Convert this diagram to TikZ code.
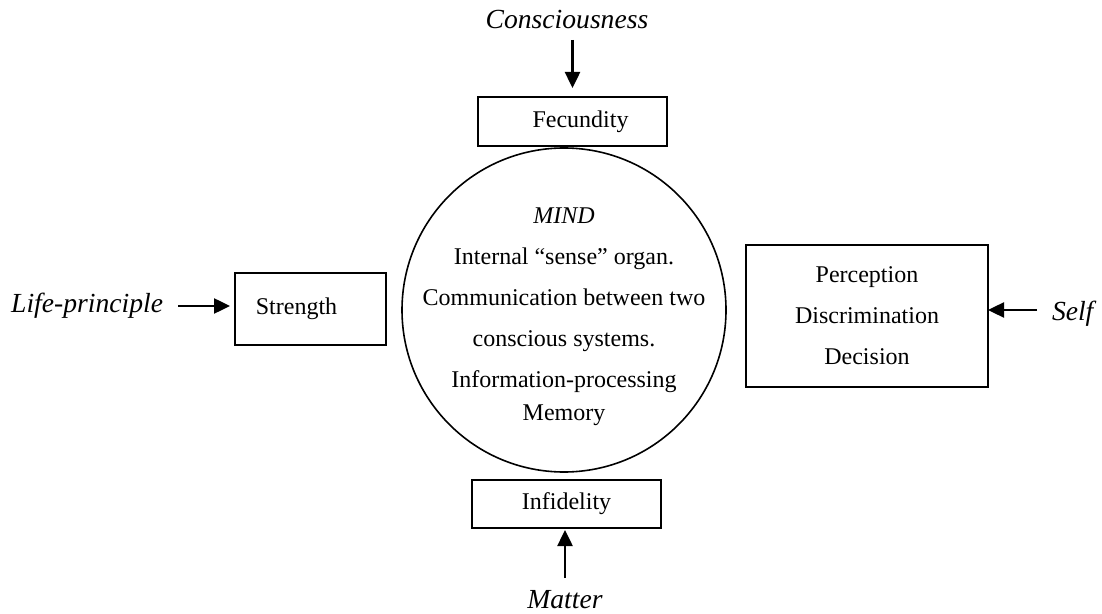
\documentclass[tikz,border=0pt]{standalone}
\usepackage{fontspec}
\setmainfont{Liberation Serif}
\usepackage{tikz}
\usetikzlibrary{arrows.meta, positioning}

\begin{document}
\begin{tikzpicture}[x=0.5pt, y=-0.5pt, node distance=10pt and 10pt, font=\fontsize{12}{20.5}\selectfont]
  % Define styles
  \tikzstyle{mindcircle} = [circle, draw=black, line width=0.8pt, minimum size=162pt, inner sep=0pt, outer sep=0pt]
  \tikzstyle{faculty} = [rectangle, draw=black, line width=1pt, text centered, align=center, inner sep=3pt, outer sep=0pt]
  \tikzstyle{pole} = [inner sep=0pt, outer sep=0pt, font=\fontsize{13.8}{16}\selectfont\itshape]
  \tikzstyle{arrow} = [line width=1.25pt, -{Triangle[length=8pt, width=7.5pt]}]

  \useasboundingbox (0,0) rectangle (1102,614);

  % Place nodes
  \node [mindcircle] (mind) at (564,310) {};
  \node [align=center, yshift=-3.5pt] (mindText) at (mind.center) {\textit{MIND}\\Internal ``sense'' organ.\\Communication between two\\conscious systems.\\Information-processing\\[-4pt]Memory};
  \node [faculty, minimum width=94.5pt, minimum height=24.5pt, above=1pt of mind, xshift=4.25pt] (fecundity) {\hspace*{8pt}Fecundity};
  \node [faculty, minimum width=94.5pt, minimum height=24pt, below=4pt of mind, xshift=1.25pt] (infidelity) {Infidelity};
  \node [faculty, minimum width=75.5pt, minimum height=36pt, left=8pt of mind, yshift=0.5pt] (strength) {Strength\hspace*{14pt}};
  \node [faculty, minimum width=121pt, minimum height=71pt, right=10pt of mind, yshift=-3pt] (judgement) {Perception\\Discrimination\\Decision};
  \node [pole, above=34pt of fecundity, xshift=-2.75pt] (consciousness) {Consciousness};
  \node [pole, below=31pt of infidelity, xshift=-0.75pt] (matter) {Matter};
  \node [pole, left=36pt of strength, yshift=1.5pt] (life) {Life-principle};
  \node [pole, right=32pt of judgement, yshift=1pt] (self) {Self};
  \coordinate (selfTail) at ([yshift=2pt]self.west);

  % Draw edges
  \draw [arrow, shorten <=5.5pt, shorten >=4.5pt] (consciousness.south -| fecundity.north) -- (fecundity.north);
  \draw [arrow, shorten <=6pt, shorten >=1pt] (matter.north) -- (matter.north |- infidelity.south);
  \draw [arrow, shorten <=7.5pt, shorten >=2.5pt] (life.east) -- (life.east -| strength.west);
  \draw [arrow, shorten <=7.5pt] (selfTail) -- (selfTail -| judgement.east);
\end{tikzpicture}
\end{document}
